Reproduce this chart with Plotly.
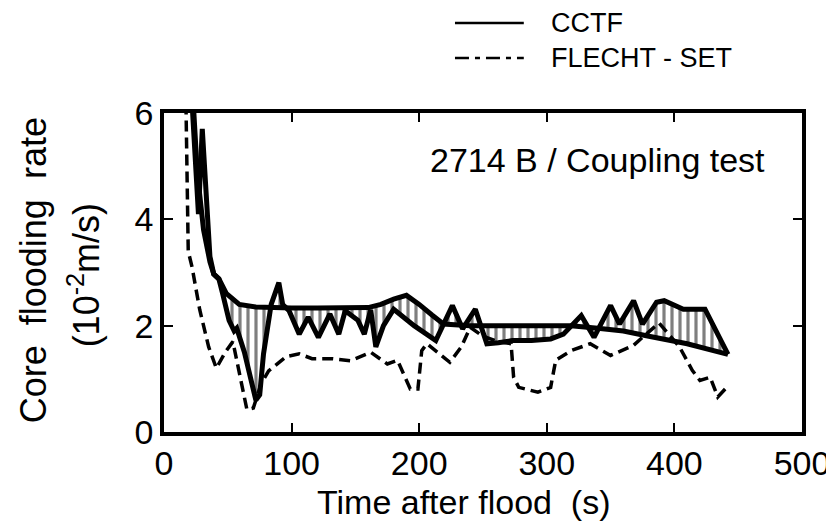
import plotly.graph_objects as go

# smooth boundary of the CCTF band
cctf_time_a = [22, 26, 31, 36, 39, 43, 49, 59, 72, 85, 100, 120, 140, 160, 170, 180, 190,
               200, 210, 219, 240, 260, 280, 300, 319, 340, 360, 380, 410, 442]
cctf_rate_a = [6.6, 4.9, 3.8, 3.2, 2.97, 2.88, 2.6, 2.4, 2.35, 2.33, 2.33, 2.33, 2.33, 2.34,
               2.4, 2.5, 2.57, 2.4, 2.2, 2.03, 2.0, 2.0, 2.0, 2.0, 2.0, 1.95, 1.9, 1.8, 1.66, 1.46]

# oscillating CCTF line
cctf_time_b = [21, 24, 27, 30, 33, 36, 39, 43, 46, 51, 55, 57, 63, 68, 72, 75, 78, 84, 90, 93,
               98, 106, 113, 121, 130, 137, 142, 152, 157, 162, 166, 172, 180, 196, 213, 226,
               234, 244, 253, 262, 273, 288, 303, 313, 327, 337, 350, 357, 368, 375, 386, 392,
               407, 424, 442]
cctf_rate_b = [6.6, 5.2, 4.1, 5.7, 4.3, 3.3, 2.97, 2.88, 2.6, 2.1, 1.9, 1.95, 1.5, 1.0, 0.6,
               0.7, 1.47, 2.4, 2.81, 2.4, 2.28, 1.84, 2.16, 1.78, 2.22, 1.84, 2.28, 2.1, 1.84,
               2.3, 1.6, 2.0, 2.31, 2.0, 1.72, 2.38, 1.94, 2.31, 1.66, 1.68, 1.72, 1.72, 1.75,
               1.84, 2.19, 1.78, 2.38, 2.03, 2.47, 2.03, 2.44, 2.47, 2.31, 2.31, 1.46]

flecht_time = [17, 18, 19, 22, 28, 35, 41, 48, 54, 60, 65, 70, 76, 82, 90, 96, 106, 116, 131,
               146, 162, 175, 183, 188, 193, 199, 202, 206, 224, 233, 240, 250, 262, 272, 274,
               278, 293, 303, 307, 319, 334, 350, 368, 375, 388, 404, 414, 420, 428, 434, 441]
flecht_rate = [6.5, 4.6, 3.4, 3.1, 2.3, 1.6, 1.2, 1.5, 1.7, 1.0, 0.42, 0.45, 0.9, 1.15, 1.3,
               1.42, 1.47, 1.38, 1.38, 1.34, 1.5, 1.28, 1.35, 1.09, 0.81, 0.81, 1.53, 1.66,
               1.31, 1.6, 1.97, 1.8, 1.7, 1.66, 1.03, 0.84, 0.75, 0.84, 1.35, 1.53, 1.66, 1.44,
               1.63, 1.78, 2.05, 1.6, 1.16, 0.97, 1.03, 0.66, 0.84]

x_ticks = [0, 100, 200, 300, 400, 500]
y_ticks = [0, 2, 4, 6]

W, H = 834, 522
L, R, T, B = 156, 805, 105, 424
FONT = "Liberation Sans, Arial, sans-serif"


def px(x, y):
    # pixel position -> paper coordinates
    return (x - L) / (R - L), (B - y) / (B - T)


fig = go.Figure()

fig.add_trace(go.Scatter(
    x=cctf_time_a, y=cctf_rate_a, mode="lines",
    line=dict(color="black", width=5), showlegend=False
))
fig.add_trace(go.Scatter(
    x=cctf_time_b, y=cctf_rate_b, mode="lines",
    line=dict(color="black", width=5),
    fill="tonexty", fillcolor="rgba(0,0,0,0)",
    fillpattern=dict(shape="|", fgcolor="black", bgcolor="white", size=8, solidity=0.4),
    name="CCTF", showlegend=False
))
fig.add_trace(go.Scatter(
    x=flecht_time, y=flecht_rate, mode="lines",
    line=dict(color="black", width=3.5, dash="11px,6px"),
    name="FLECHT-SET", showlegend=False
))

# legend drawn by hand
lx0, ly1 = px(452, 15)
lx1, ly2 = px(522, 50)
fig.add_shape(type="line", xref="paper", yref="paper", x0=lx0, x1=lx1, y0=ly1, y1=ly1,
              line=dict(color="black", width=2.5))
fig.add_shape(type="line", xref="paper", yref="paper", x0=lx0, x1=lx1, y0=ly2, y1=ly2,
              line=dict(color="black", width=2.5, dash="14px,6px,5px,6px"))
tx, _ = px(548, 0)
fig.add_annotation(text="CCTF", xref="paper", yref="paper", x=tx, y=ly1,
                   xanchor="left", yanchor="middle", showarrow=False,
                   font=dict(family=FONT, size=27, color="black"))
fig.add_annotation(text="FLECHT - SET", xref="paper", yref="paper", x=tx, y=ly2,
                   xanchor="left", yanchor="middle", showarrow=False,
                   font=dict(family=FONT, size=27, color="black"))

fig.add_annotation(text="2714 B / Coupling test", x=207, y=5.11, xref="x", yref="y",
                   xanchor="left", yanchor="middle", showarrow=False,
                   font=dict(family=FONT, size=34, color="black"))

# axis titles
ax, ay = px(23, 262)
fig.add_annotation(text="Core  flooding  rate", xref="paper", yref="paper", x=ax, y=ay,
                   xanchor="center", yanchor="middle", textangle=-90, showarrow=False,
                   font=dict(family=FONT, size=36, color="black"))
ax2, ay2 = px(75, 267)
fig.add_annotation(text="(10<sup>-2</sup>m/s)", xref="paper", yref="paper", x=ax2, y=ay2,
                   xanchor="center", yanchor="middle", textangle=-90, showarrow=False,
                   font=dict(family=FONT, size=36, color="black"))
bx, by = px(461, 494)
fig.add_annotation(text="Time after flood  (s)", xref="paper", yref="paper", x=bx, y=by,
                   xanchor="center", yanchor="middle", showarrow=False,
                   font=dict(family=FONT, size=34, color="black"))

axis_style = dict(
    showline=True, linecolor="black", linewidth=3.5, mirror="ticks",
    ticks="inside", ticklen=9, tickwidth=2, tickcolor="black",
    showgrid=False, zeroline=False,
    tickfont=dict(family=FONT, size=34, color="black"),
)

fig.update_xaxes(range=[0, 500], tickvals=x_ticks, ticktext=[str(v) for v in x_ticks],
                 ticklabelstandoff=-2, **axis_style)
fig.update_yaxes(range=[0, 6], tickvals=y_ticks, ticktext=[str(v) for v in y_ticks],
                 **axis_style)

fig.update_layout(
    width=W, height=H,
    margin=dict(l=L, r=W - R, t=T, b=H - B),
    plot_bgcolor="white", paper_bgcolor="white",
    showlegend=False,
)

fig.write_html("out.html")
